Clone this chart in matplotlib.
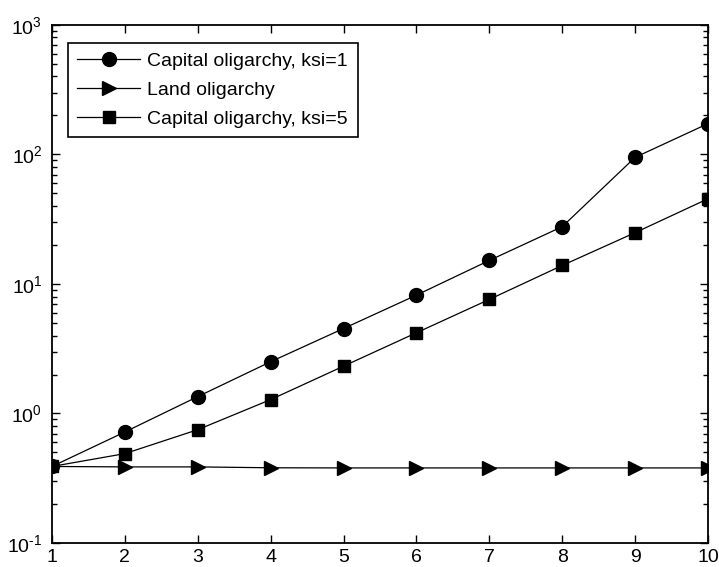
import numpy as np
import matplotlib
matplotlib.use('Agg')
import matplotlib.pyplot as plt
import matplotlib.ticker as ticker

plt.rcParams['font.family'] = ['Liberation Sans', 'DejaVu Sans']
plt.rcParams['mathtext.fontset'] = 'custom'
plt.rcParams['mathtext.rm'] = 'Liberation Sans'
plt.rcParams['mathtext.it'] = 'Liberation Sans'

# datos
x = [1, 2, 3, 4, 5, 6, 7, 8, 9, 10]
capital_ksi1 = [0.39, 0.72, 1.35, 2.51, 4.53, 8.2, 15.2, 27.7, 95.0, 173.0]
land = [0.39, 0.387, 0.387, 0.381, 0.38, 0.38, 0.38, 0.38, 0.38, 0.38]
capital_ksi5 = [0.39, 0.49, 0.75, 1.28, 2.32, 4.2, 7.6, 13.9, 24.9, 45.5]
etiquetas = ['Capital oligarchy, ksi=1', 'Land oligarchy', 'Capital oligarchy, ksi=5']
y_ticks = [0.1, 1, 10, 100, 1000]
y_labels = [r'10$^{\text{-1}}$', '10$^{0}$', '10$^{1}$', '10$^{2}$', '10$^{3}$']

fig = plt.figure(figsize=(7.19, 5.67), dpi=100)
ax = fig.add_axes([0.0723, 0.0423, 0.9124, 0.9137])

ax.plot(x, capital_ksi1, 'k-o', lw=0.9, ms=10, label=etiquetas[0])
ax.plot(x, land, 'k->', lw=0.9, ms=10, label=etiquetas[1])
ax.plot(x, capital_ksi5, 'k-s', lw=0.9, ms=9, label=etiquetas[2])

ax.set_yscale('log')
ax.set_xlim(1, 10)
ax.set_ylim(0.1, 1000)
ax.set_xticks(x)
ax.set_yticks(y_ticks)
ax.set_yticklabels(y_labels)
ax.yaxis.set_minor_locator(ticker.LogLocator(base=10, subs=np.arange(2, 10), numticks=20))
ax.yaxis.set_minor_formatter(ticker.NullFormatter())

for s in ax.spines.values():
    s.set_linewidth(1.3)
ax.tick_params(which='both', direction='in', top=True, right=True, labelsize=14, width=1)
ax.tick_params(which='major', length=6, pad=4)
ax.tick_params(axis='y', which='major', pad=7)
ax.tick_params(which='minor', length=3.5)

leg = ax.legend(loc='upper left', bbox_to_anchor=(0.024, 0.966), fontsize=14,
                fancybox=False, framealpha=1, edgecolor='k', handlelength=3.2,
                handletextpad=0.4, labelspacing=0.58, borderpad=0.5, borderaxespad=0)
leg.get_frame().set_linewidth(1.2)

plt.savefig('out.png', dpi=100)
plt.close('all')
